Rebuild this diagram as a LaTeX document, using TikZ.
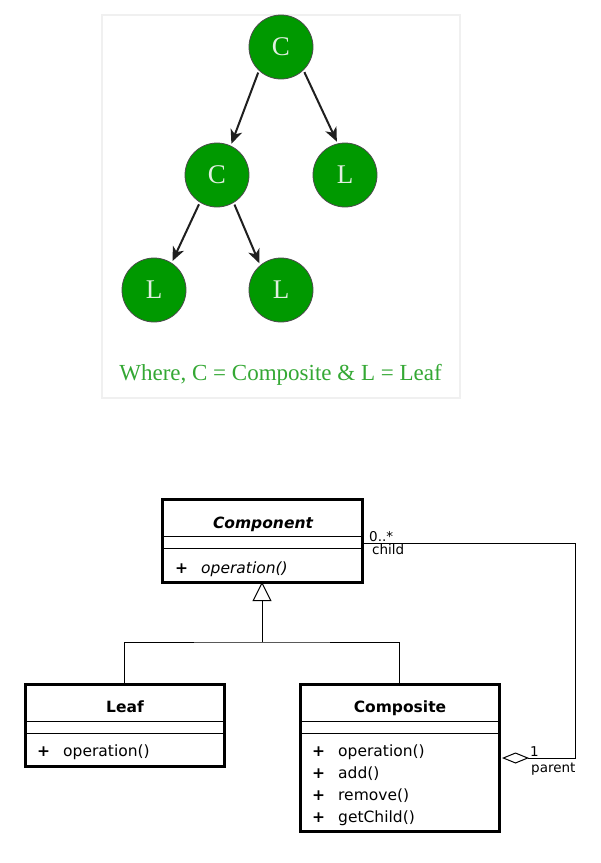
\documentclass[tikz,border=0pt]{standalone}
\usepackage{fontspec}
\setmainfont{DejaVu Sans}
\newfontfamily\treefont{Liberation Serif}
\usetikzlibrary{arrows.meta,shapes.geometric}
\definecolor{treegreen}{RGB}{0,153,0}
\definecolor{captiongreen}{RGB}{52,168,52}
\definecolor{treetext}{RGB}{225,238,225}
\tikzset{
  treenode/.style={circle,minimum size=64pt,inner sep=0pt,fill=treegreen,draw=black!70,line width=0.8pt,text=treetext,font=\treefont\fontsize{27}{27}\selectfont},
  treearrow/.style={-{Stealth[length=14pt,width=12pt,inset=4pt]},line width=2pt,black!88,shorten <=2pt,shorten >=2pt},
  umlbox/.style={draw=black,line width=3pt,inner sep=0pt},
  umltitle/.style={font=\fontsize{15.5}{15.5}\selectfont\bfseries,inner sep=0pt,anchor=base},
  umlop/.style={font=\fontsize{15.5}{15.5}\selectfont,inner sep=0pt,anchor=base west},
  umlsep/.style={line width=1pt},
  umlline/.style={line width=1pt},
  multlabel/.style={font=\fontsize{13.5}{13.5}\selectfont,inner sep=0pt,anchor=base west}
}
\begin{document}
\begin{tikzpicture}[x=1pt,y=-1pt]
\useasboundingbox (0,0) rectangle (601,863);
% top panel
\node[draw=black!6,fill=white,line width=1.2pt,minimum width=358pt,minimum height=383pt,inner sep=0pt] (panel) at (281,206.5) {};
\node[treenode] (c1) at (281,47) {C};
\node[treenode] (c2) at (217,175) {C};
\node[treenode] (l1) at (345,175) {L};
\node[treenode] (l2) at (154,290) {L};
\node[treenode] (l3) at (281,290) {L};
\draw[treearrow] (c1.227) -- (c2.65);
\draw[treearrow] (c1.314) -- (l1.103);
\draw[treearrow] (c2.238) -- (l2.57);
\draw[treearrow] (c2.301) -- (l3.130);
\node[text=captiongreen,font=\treefont\fontsize{23}{23}\selectfont,inner sep=0pt,anchor=base] (caption) at (280.5,380) {Where, C = Composite \& L = Leaf};

% UML: Component
\node[umlbox,minimum width=200pt,minimum height=83pt] (comp) at (262,540.5) {};
\draw[umlsep] (162,536) -- (362,536);
\draw[umlsep] (162,548) -- (362,548);
\node[umltitle,font=\fontsize{15.5}{15.5}\selectfont\bfseries\itshape] (compname) at (263,528) {Component};
\node[umlop] (compplus) at (175,573) {\textbf{+}};
\node[umlop] (compop) at (201,573) {\itshape operation()};

% Leaf
\node[umlbox,minimum width=199pt,minimum height=82pt] (leaf) at (124.5,725) {};
\draw[umlsep] (25,721) -- (224,721);
\draw[umlsep] (25,733) -- (224,733);
\node[umltitle] (leafname) at (125,712) {Leaf};
\node[umlop] (leafplus) at (37,756) {\textbf{+}};
\node[umlop] (leafop) at (63,756) {operation()};

% Composite
\node[umlbox,minimum width=199pt,minimum height=147pt] (compo) at (399.5,757.5) {};
\draw[umlsep] (300,721) -- (499,721);
\draw[umlsep] (300,733) -- (499,733);
\node[umltitle] (componame) at (400,712) {Composite};
\node[umlop] (p1) at (312,756) {\textbf{+}};
\node[umlop] (o1) at (338,756) {operation()};
\node[umlop] (p2) at (312,778) {\textbf{+}};
\node[umlop] (o2) at (338,778) {add()};
\node[umlop] (p3) at (312,800) {\textbf{+}};
\node[umlop] (o3) at (338,800) {remove()};
\node[umlop] (p4) at (312,822) {\textbf{+}};
\node[umlop] (o4) at (338,822) {getChild()};

% inheritance
\coordinate (junction) at (262,642);
\draw[umlline] (leaf.north) |- (junction) -| (compo.north);
\draw[umlline,-{Triangle[open,length=19pt,width=19pt]}] (junction) -- ([yshift=1.5pt]comp.south);

% aggregation
\coordinate (corner1) at (575,543);
\coordinate (corner2) at (575,758);
\draw[umlline,{Diamond[open,length=27pt,width=11pt]}-] ([xshift=1.5pt]compo.east |- corner2) -- (corner2) -- (corner1) -- (comp.east |- corner1);
\node[multlabel] (m1) at (369,541) {0..*};
\node[multlabel] (r1) at (372,554) {child};
\node[multlabel] (m2) at (530,756) {1};
\node[multlabel] (r2) at (531,772) {parent};
\end{tikzpicture}
\end{document}
